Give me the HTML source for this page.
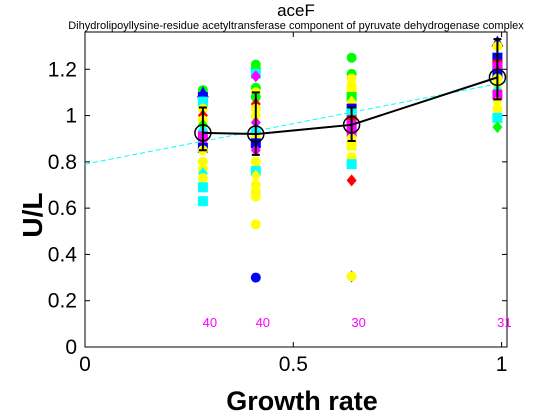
<!DOCTYPE html>
<html><head><meta charset="utf-8"><style>
body{margin:0;background:#fff;}
svg{display:block;font-family:"Liberation Sans",sans-serif;}
</style></head><body>
<svg id="c" width="560" height="420">
<text x="296" y="16" font-size="17" text-anchor="middle">aceF</text>
<text x="296" y="29" font-size="11" text-anchor="middle">Dihydrolipoyllysine-residue acetyltransferase component of pyruvate dehydrogenase complex</text>
<text x="302" y="410" font-size="27" font-weight="bold" text-anchor="middle">Growth rate</text>
<text x="42" y="215" font-size="28" font-weight="bold" text-anchor="middle" transform="rotate(-90 42 215)">U/L</text>
<g id="plot"></g>
</svg>
<script>
const xTicks=[0,0.5,1];
const xTickLabels=["0","0.5","1"];
const yTicks=[0,0.2,0.4,0.6,0.8,1,1.2];
const yTickLabels=["0","0.2","0.4","0.6","0.8","1","1.2"];
const groupX=[0.283,0.41,0.64,0.99];
const groupMean=[0.925,0.92,0.96,1.165];
const groupLow=[0.85,0.83,0.89,1.07];
const groupHigh=[1.035,1.10,1.035,1.33];
const groupCount=["40","40","30","31"];
const fitStart=[0,0.79];
const fitEnd=[1.013,1.145];
// scatter: [groupIndex, value, color, shape]
const pts=[
[0,1.11,"#0f0","o"],[0,1.10,"#00f","^"],[0,1.08,"#00f","s"],[0,1.06,"#0ff","s"],[0,1.03,"#ff0","o"],[0,1.0,"#f00","d"],[0,0.98,"#ff0","o"],[0,0.96,"#0f0","d"],[0,0.93,"#0ff","o"],[0,0.91,"#f0f","s"],[0,0.88,"#f0f","d"],[0,0.86,"#00f","s"],[0,0.85,"#ff0","o"],[0,0.8,"#ff0","o"],[0,0.77,"#ff0","o"],[0,0.75,"#0ff","d"],[0,0.73,"#ff0","o"],[0,0.69,"#0ff","s"],[0,0.63,"#0ff","s"],
[1,1.22,"#0f0","o"],[1,1.20,"#0f0","o"],[1,1.18,"#0ff","s"],[1,1.17,"#f0f","d"],[1,1.12,"#0f0","o"],[1,1.10,"#ff0","o"],[1,1.08,"#0f0","o"],[1,1.05,"#f00","d"],[1,1.03,"#ff0","o"],[1,1.0,"#ff0","o"],[1,0.97,"#f0f","d"],[1,0.93,"#0ff","o"],[1,0.90,"#ff0","o"],[1,0.88,"#00f","s"],[1,0.85,"#f0f","d"],[1,0.80,"#ff0","o"],[1,0.76,"#0ff","s"],[1,0.74,"#ff0","d"],[1,0.70,"#ff0","o"],[1,0.67,"#ff0","o"],[1,0.65,"#ff0","o"],[1,0.53,"#ff0","o"],[1,0.30,"#00f","o"],
[2,1.25,"#0f0","o"],[2,1.18,"#0f0","o"],[2,1.16,"#ff0","o"],[2,1.13,"#ff0","o"],[2,1.10,"#ff0","s"],[2,1.08,"#0f0","s"],[2,1.06,"#ff0","d"],[2,1.03,"#00f","s"],[2,1.01,"#0ff","s"],[2,0.98,"#f00","s"],[2,0.96,"#f0f","s"],[2,0.93,"#f0f","s"],[2,0.90,"#ff0","o"],[2,0.87,"#ff0","s"],[2,0.82,"#ff0","o"],[2,0.79,"#0ff","s"],[2,0.72,"#f00","d"],[2,0.305,"#00f","d"],[2,0.305,"#ff0","o"],
[3,1.32,"#00f","^"],[3,1.30,"#ff0","o"],[3,1.25,"#00f","s"],[3,1.22,"#f00","s"],[3,1.21,"#f0f","s"],[3,1.18,"#00f","s"],[3,1.16,"#ff0","o"],[3,1.13,"#ff0","o"],[3,1.11,"#0ff","d"],[3,1.09,"#f0f","s"],[3,1.06,"#ff0","d"],[3,1.03,"#ff0","o"],[3,0.99,"#0ff","s"],[3,0.95,"#0f0","d"]
];
const L=85,R=507,T=32,B=347,XMAX=1.013,YMAX=1.361;
const sx=v=>L+v/XMAX*(R-L), sy=v=>B-v/YMAX*(B-T);
const ns="http://www.w3.org/2000/svg", g=document.getElementById('plot');
function mk(t,a,p){const e=document.createElementNS(ns,t);for(const k in a)e.setAttribute(k,a[k]);(p||g).appendChild(e);return e;}
const frame=mk('rect',{x:L,y:T,width:R-L,height:B-T,fill:'none',stroke:'#000','stroke-width':1});


xTicks.forEach((v,i)=>{const x=sx(v);
 const t=mk('line',{x1:x,x2:x,y1:B,y2:B-5,stroke:'#000'});
 
 
 mk('line',{x1:x,x2:x,y1:T,y2:T+5,stroke:'#000'});
 const l=mk('text',{x:x,y:B+24,'font-size':21,'text-anchor':'middle'});l.textContent=xTickLabels[i];
 
 });
yTicks.forEach((v,i)=>{const y=sy(v);
 const t=mk('line',{x1:L,x2:L+5,y1:y,y2:y,stroke:'#000'});
 
 
 mk('line',{x1:R,x2:R-5,y1:y,y2:y,stroke:'#000'});
 const l=mk('text',{x:L-8,y:y+7,'font-size':21,'text-anchor':'end'});l.textContent=yTickLabels[i];
 
 });
pts.forEach(p=>{const x=sx(groupX[p[0]]),y=sy(p[1]),c=p[2];let e;
 if(p[3]=='o')e=mk('circle',{cx:x,cy:y,r:5,fill:c});
 else if(p[3]=='s')e=mk('rect',{x:x-5,y:y-5,width:10,height:10,fill:c});
 else if(p[3]=='d')e=mk('polygon',{points:`${x},${y-6} ${x+5},${y} ${x},${y+6} ${x-5},${y}`,fill:c});
 else e=mk('polygon',{points:`${x},${y-6} ${x+6},${y+5} ${x-6},${y+5}`,fill:c});
 
 });
const fit=mk('line',{x1:sx(fitStart[0]),y1:sy(fitStart[1]),x2:sx(fitEnd[0]),y2:sy(fitEnd[1]),stroke:'#0ff','stroke-dasharray':'5,3','stroke-width':1});


const ml=mk('polyline',{points:groupX.map((x,i)=>sx(x)+','+sy(groupMean[i])).join(' '),fill:'none',stroke:'#000','stroke-width':2});


groupX.forEach((gx,i)=>{const x=sx(gx);
 const eb=mk('path',{d:`M${x},${sy(groupLow[i])}V${sy(groupHigh[i])}M${x-4},${sy(groupLow[i])}H${x+4}M${x-4},${sy(groupHigh[i])}H${x+4}`,stroke:'#000','stroke-width':2,fill:'none'});
 
 
 const m=mk('circle',{cx:x,cy:sy(groupMean[i]),r:8,fill:'none',stroke:'#000','stroke-width':1.5});
 
 
 const t=mk('text',{x:x+7,y:327,'font-size':13,fill:'#f0f','text-anchor':'middle'});t.textContent=groupCount[i];
 
 });
</script>
</body></html>
